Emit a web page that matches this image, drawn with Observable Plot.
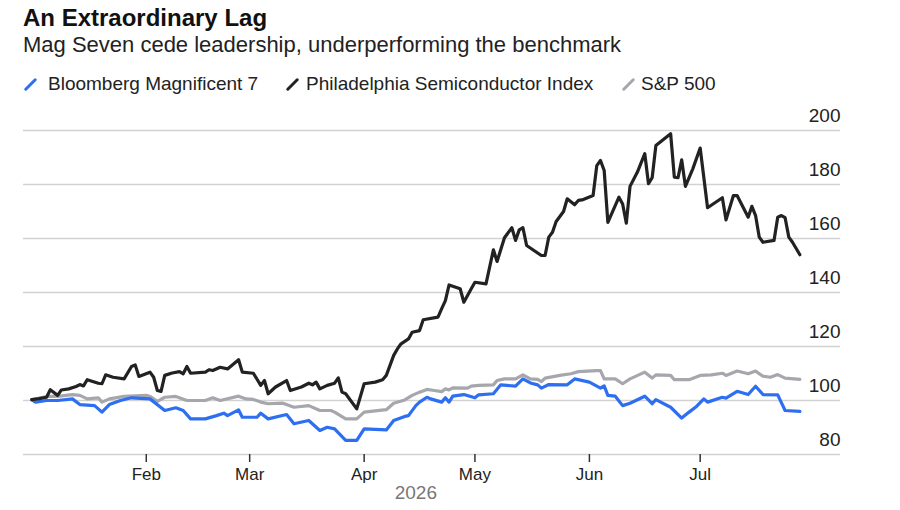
<!DOCTYPE html>
<html><head><meta charset="utf-8">
<script src="https://cdn.jsdelivr.net/npm/d3@7"></script>
<script src="https://cdn.jsdelivr.net/npm/@observablehq/plot@0.6"></script>
<style>
body{margin:0;background:#fff;font-family:"Liberation Sans",Arial,sans-serif;width:900px;height:510px;overflow:hidden}
#head{position:relative;height:100px}
#title{position:absolute;left:23px;top:6px;font-size:24px;font-weight:bold;line-height:1;color:#111;white-space:nowrap}
#subtitle{position:absolute;left:23px;top:34px;font-size:22px;line-height:1;color:#222;white-space:nowrap}
.lg{position:absolute;top:74px;font-size:19px;line-height:1;color:#222;white-space:nowrap}
.sw{position:absolute;top:77.5px}
#chart{height:410px}
</style></head>
<body>
<div id="head">
  <div id="title"></div>
  <div id="subtitle"></div>
  <div id="legend"></div>
</div>
<div id="chart"></div>
<script>
const titleText = "An Extraordinary Lag";
const subtitleText = "Mag Seven cede leadership, underperforming the benchmark";
const seriesNames = ["Bloomberg Magnificent 7", "Philadelphia Semiconductor Index", "S&P 500"];
const seriesColors = ["#2d6ff0", "#222222", "#a5a7ad"];
const legendSwatchX = [24, 286, 622];
const legendTextX = [48, 306, 641];

const yTicks = [80, 100, 120, 140, 160, 180, 200];
const monthTicks = ["2026-02-01","2026-03-01","2026-04-01","2026-05-01","2026-06-01","2026-07-01"];
const yearLabel = "2026";
const yearLabelDate = "2026-04-15";
const xDomain = ["2025-12-29T18:00:00Z", "2026-08-08T00:00:00Z"];

const semiDates = ["2026-01-01","2026-01-03","2026-01-05","2026-01-06","2026-01-08","2026-01-09","2026-01-11","2026-01-13","2026-01-14","2026-01-15","2026-01-16","2026-01-19","2026-01-20","2026-01-21","2026-01-23","2026-01-26","2026-01-28","2026-01-29","2026-01-30",
"2026-02-02","2026-02-03","2026-02-04","2026-02-05","2026-02-06","2026-02-08","2026-02-10","2026-02-11","2026-02-12","2026-02-13","2026-02-17","2026-02-18","2026-02-19","2026-02-21","2026-02-23","2026-02-26","2026-02-27",
"2026-03-02","2026-03-04","2026-03-05","2026-03-06","2026-03-08","2026-03-11","2026-03-12","2026-03-15","2026-03-17","2026-03-18","2026-03-19","2026-03-20","2026-03-22","2026-03-24","2026-03-25","2026-03-26","2026-03-27","2026-03-30",
"2026-04-01","2026-04-04","2026-04-06","2026-04-07","2026-04-09","2026-04-10","2026-04-11","2026-04-13","2026-04-14","2026-04-16","2026-04-17","2026-04-21","2026-04-22","2026-04-23","2026-04-24","2026-04-27","2026-04-28","2026-04-30",
"2026-05-01","2026-05-04","2026-05-06","2026-05-07","2026-05-09","2026-05-11","2026-05-12","2026-05-13","2026-05-14","2026-05-15","2026-05-19","2026-05-20","2026-05-21","2026-05-22","2026-05-23","2026-05-25","2026-05-26","2026-05-28","2026-05-29","2026-05-30",
"2026-06-02","2026-06-03","2026-06-04","2026-06-05","2026-06-06","2026-06-09","2026-06-10","2026-06-11","2026-06-12","2026-06-14","2026-06-16","2026-06-17","2026-06-18","2026-06-19","2026-06-23","2026-06-24","2026-06-25","2026-06-26","2026-06-27","2026-06-29",
"2026-07-01","2026-07-03","2026-07-07","2026-07-08","2026-07-10","2026-07-11","2026-07-14","2026-07-15","2026-07-16","2026-07-17","2026-07-18","2026-07-21","2026-07-22","2026-07-23","2026-07-24","2026-07-25","2026-07-26","2026-07-28"];
const semiValues = [100.3,100.7,101.2,104.0,101.9,103.9,104.3,105.2,105.9,105.4,107.7,106.4,106.2,109.5,108.6,108.0,112.6,113.2,108.9,
110.5,108.6,103.7,103.4,109.3,110.2,110.7,109.9,112.6,110.1,110.5,111.4,111.1,112.3,111.7,115.1,110.5,
110.1,105.6,107.4,102.5,105.0,107.4,103.7,105.0,106.4,105.8,106.8,104.3,105.6,106.4,108.4,103.1,102.5,96.9,
106.2,106.8,107.7,109.3,116.7,119.1,121.0,122.8,125.3,125.9,129.9,130.9,134.0,137.0,142.8,141.4,136.4,141.4,
143.8,143.2,155.8,151.5,160.3,164.0,159.3,163.2,164.0,157.4,153.7,153.7,160.5,162.3,166.3,170.0,174.7,172.5,174.1,174.3,
175.9,187.0,188.9,185.2,166.0,175.3,172.8,165.7,179.3,184.6,191.4,180.3,182.5,194.4,198.8,182.7,182.5,189.1,179.3,185.8,
193.5,171.4,175.1,166.9,175.9,175.9,167.9,171.9,168.5,160.5,158.6,159.3,167.9,168.5,167.7,160.5,158.6,154.0];

const spxDates = ["2026-01-01","2026-01-05","2026-01-08","2026-01-12","2026-01-14","2026-01-16","2026-01-19","2026-01-20","2026-01-22","2026-01-26",
"2026-02-01","2026-02-02","2026-02-04","2026-02-06","2026-02-09","2026-02-12","2026-02-17","2026-02-19","2026-02-21","2026-02-26","2026-02-28",
"2026-03-02","2026-03-04","2026-03-06","2026-03-10","2026-03-13","2026-03-17","2026-03-20","2026-03-23","2026-03-24","2026-03-27","2026-03-30",
"2026-04-01","2026-04-07","2026-04-09","2026-04-12","2026-04-14","2026-04-16","2026-04-18","2026-04-20","2026-04-22","2026-04-23","2026-04-24","2026-04-25","2026-04-29","2026-04-30",
"2026-05-02","2026-05-06","2026-05-07","2026-05-09","2026-05-12","2026-05-14","2026-05-16","2026-05-18","2026-05-19","2026-05-20","2026-05-24","2026-05-27","2026-05-29",
"2026-06-03","2026-06-04","2026-06-05","2026-06-08","2026-06-10","2026-06-12","2026-06-16","2026-06-18","2026-06-19","2026-06-23","2026-06-24","2026-06-28",
"2026-07-01","2026-07-04","2026-07-07","2026-07-08","2026-07-11","2026-07-14","2026-07-16","2026-07-18","2026-07-20","2026-07-22","2026-07-24","2026-07-28"];
const spxValues = [100.3,101.5,101.5,102.2,101.9,100.6,101.0,99.4,100.6,101.5,
101.9,101.5,99.7,101.2,101.5,100.0,100.0,101.0,100.0,101.6,100.6,
100.4,99.4,98.8,99.0,97.5,98.1,96.3,96.3,95.7,93.2,93.2,
95.7,96.6,99.0,100.2,101.9,103.1,104.1,103.7,103.3,104.3,103.9,104.7,104.6,105.3,
105.6,105.8,107.4,108.0,108.0,109.5,108.0,107.8,107.0,108.3,109.3,109.9,110.7,
111.1,111.1,108.0,108.0,106.2,108.0,110.5,108.3,109.5,109.3,107.7,107.7,
109.3,109.5,110.1,109.3,110.9,109.9,110.9,109.0,108.6,109.6,108.3,107.8];

const magDates = ["2026-01-01","2026-01-02","2026-01-05","2026-01-08","2026-01-12","2026-01-14","2026-01-18","2026-01-20","2026-01-22","2026-01-25","2026-01-28",
"2026-02-02","2026-02-06","2026-02-09","2026-02-11","2026-02-13","2026-02-17","2026-02-20","2026-02-22","2026-02-23","2026-02-26","2026-02-27",
"2026-03-03","2026-03-04","2026-03-06","2026-03-11","2026-03-13","2026-03-17","2026-03-20","2026-03-22","2026-03-24","2026-03-27","2026-03-30",
"2026-04-01","2026-04-07","2026-04-09","2026-04-12","2026-04-13","2026-04-15","2026-04-16","2026-04-18","2026-04-19","2026-04-22","2026-04-23","2026-04-24","2026-04-25","2026-04-28",
"2026-05-01","2026-05-02","2026-05-06","2026-05-08","2026-05-12","2026-05-14","2026-05-16","2026-05-18","2026-05-19","2026-05-21","2026-05-26","2026-05-28",
"2026-06-01","2026-06-04","2026-06-05","2026-06-06","2026-06-08","2026-06-10","2026-06-12","2026-06-16","2026-06-18","2026-06-19","2026-06-23","2026-06-26","2026-06-28","2026-06-30",
"2026-07-02","2026-07-03","2026-07-07","2026-07-08","2026-07-11","2026-07-14","2026-07-16","2026-07-18","2026-07-22","2026-07-24","2026-07-28"];
const magValues = [100.3,99.4,100.0,100.0,100.6,98.5,98.1,95.7,98.5,100.0,101.0,
100.6,96.3,97.3,96.3,93.2,93.2,94.4,95.3,94.4,96.5,93.8,
93.8,95.3,93.2,94.8,91.4,92.6,88.9,90.1,89.5,85.2,85.2,
89.5,89.1,92.6,94.1,94.4,98.1,99.4,101.2,100.6,99.4,101.0,99.4,101.6,102.2,
101.0,102.1,102.5,105.8,105.3,108.0,106.5,105.8,104.6,105.9,105.8,108.0,
106.8,104.6,105.4,101.9,101.6,98.1,99.0,101.6,98.8,100.3,97.5,93.5,95.7,97.8,
100.6,99.4,101.2,100.9,103.4,102.2,105.3,102.2,102.1,96.3,96.0];

// headline + legend
document.getElementById("title").textContent = titleText;
document.getElementById("subtitle").textContent = subtitleText;
const legend = document.getElementById("legend");
seriesNames.forEach((name, i) => {
  const sw = document.createElementNS("http://www.w3.org/2000/svg", "svg");
  sw.setAttribute("class", "sw"); sw.setAttribute("width", 13); sw.setAttribute("height", 13);
  sw.style.left = legendSwatchX[i] + "px";
  sw.innerHTML = `<line x1="1.8" y1="11.2" x2="11.2" y2="1.8" stroke="${seriesColors[i]}" stroke-width="3" stroke-linecap="round"/>`;
  legend.appendChild(sw);
  const t = document.createElement("div");
  t.className = "lg"; t.style.left = legendTextX[i] + "px"; t.textContent = name;
  legend.appendChild(t);
});

const parse = d3.utcParse("%Y-%m-%d");
const rows = [];
function add(name, dates, vals) { dates.forEach((d, i) => rows.push({series: name, date: parse(d), value: vals[i]})); }
add(seriesNames[2], spxDates, spxValues);
add(seriesNames[0], magDates, magValues);
add(seriesNames[1], semiDates, semiValues);

const chart = Plot.plot({
  width: 900,
  height: 410,
  marginTop: 30,
  marginBottom: 56,
  marginLeft: 23,
  marginRight: 60,
  style: {fontFamily: '"Liberation Sans", Arial, sans-serif', color: "#222", background: "#fff"},
  x: {type: "utc", domain: xDomain.map(d => new Date(d))},
  y: {domain: [80, 200], axis: null},
  marks: [
    Plot.ruleY(yTicks, {stroke: "#d2d2d2", strokeWidth: 1.3}),
    Plot.text(yTicks, {y: d => d, text: d => String(d), frameAnchor: "right", textAnchor: "end", dy: -14.5, fontSize: 19, fill: "#222"}),
    Plot.axisX({ticks: monthTicks.map(parse), tickFormat: d3.utcFormat("%b"), tickSize: 8, tickPadding: 5.5, fontSize: 17, stroke: "#333", strokeWidth: 1.5, fill: "#222", label: null}),
    Plot.text([yearLabel], {x: () => parse(yearLabelDate), text: d => d, frameAnchor: "bottom", dy: 44, fontSize: 19, fill: "#777"}),
    ...[2, 0, 1].map(i => Plot.line(rows.filter(r => r.series === seriesNames[i]), {
      x: "date", y: "value", stroke: seriesColors[i], strokeWidth: 3.2, strokeLinejoin: "round", strokeLinecap: "round"
    }))
  ]
});
document.getElementById("chart").appendChild(chart);
</script>
</body></html>
